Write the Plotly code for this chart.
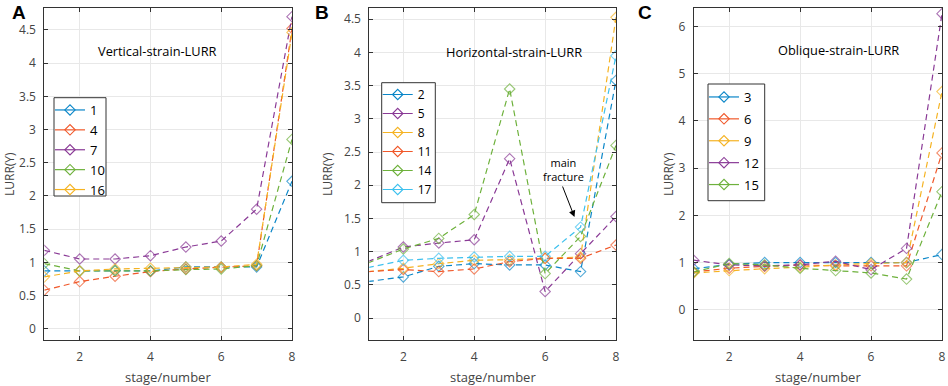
import plotly.graph_objects as go

stages = [1, 2, 3, 4, 5, 6, 7, 8]

# Panel A: Vertical-strain-LURR
a_names = ["1", "4", "7", "10", "16"]
a_1 = [0.87, 0.87, 0.88, 0.87, 0.93, 0.93, 0.93, 2.22]
a_4 = [0.58, 0.71, 0.79, 0.86, 0.90, 0.92, 0.95, 4.52]
a_7 = [1.18, 1.05, 1.05, 1.10, 1.23, 1.32, 1.80, 4.70]
a_10 = [0.98, 0.87, 0.87, 0.87, 0.89, 0.90, 0.95, 2.85]
a_16 = [0.78, 0.87, 0.90, 0.91, 0.93, 0.93, 0.97, 4.46]

# Panel B: Horizontal-strain-LURR
b_names = ["2", "5", "8", "11", "14", "17"]
b_2 = [0.55, 0.62, 0.78, 0.82, 0.80, 0.80, 0.70, 3.58]
b_5 = [0.85, 1.07, 1.13, 1.18, 2.40, 0.40, 0.97, 1.53]
b_8 = [0.70, 0.75, 0.82, 0.87, 0.88, 0.90, 0.92, 4.53]
b_11 = [0.70, 0.73, 0.70, 0.74, 0.85, 0.90, 0.90, 1.10]
b_14 = [0.83, 1.04, 1.20, 1.56, 3.45, 0.67, 1.23, 2.60]
b_17 = [0.76, 0.87, 0.90, 0.92, 0.93, 0.93, 1.37, 3.95]

# Panel C: Oblique-strain-LURR
c_names = ["3", "6", "9", "12", "15"]
c_3 = [0.87, 0.96, 1.00, 1.00, 1.00, 1.00, 1.00, 1.17]
c_6 = [0.80, 0.88, 0.92, 0.95, 0.93, 0.93, 0.93, 3.32]
c_9 = [0.78, 0.83, 0.87, 0.90, 0.95, 0.98, 1.00, 4.62]
c_12 = [1.05, 0.95, 0.93, 0.95, 1.03, 0.85, 1.30, 6.27]
c_15 = [0.80, 0.98, 0.95, 0.88, 0.83, 0.78, 0.65, 2.50]

BLUE = "#0a86c8"
ORANGE = "#f0582a"
YELLOW = "#f5b323"
PURPLE = "#8a3a96"
GREEN = "#6eb13c"
CYAN = "#3ec1ee"

W, H = 948, 386

def px_x(p):
    return p / W

def px_y(p):
    return (H - p) / H

panels = [
    dict(series=[a_1, a_4, a_7, a_10, a_16], names=a_names,
         colors=[BLUE, ORANGE, PURPLE, GREEN, YELLOW],
         ax="x", ay="y", legend="legend", hide_first=False),
    dict(series=[b_2, b_5, b_8, b_11, b_14, b_17], names=b_names,
         colors=[BLUE, PURPLE, YELLOW, ORANGE, GREEN, CYAN],
         ax="x2", ay="y2", legend="legend2", hide_first=True),
    dict(series=[c_3, c_6, c_9, c_12, c_15], names=c_names,
         colors=[BLUE, ORANGE, YELLOW, PURPLE, GREEN],
         ax="x3", ay="y3", legend="legend3", hide_first=False),
]

fig = go.Figure()
for p in panels:
    for vals, name, col in zip(p["series"], p["names"], p["colors"]):
        sizes = [8] * len(stages)
        if p["hide_first"]:
            sizes[0] = 0
        fig.add_trace(go.Scatter(
            x=stages, y=vals, name=name, mode="lines+markers",
            xaxis=p["ax"], yaxis=p["ay"], showlegend=False,
            line=dict(color=col, width=1.2, dash="6px,4px"),
            marker=dict(symbol="diamond-open", size=sizes, color=col,
                        line=dict(width=1.1, color=col)),
        ))
    # legend key entries (solid line + diamond, as in the original legend)
    for name, col in zip(p["names"], p["colors"]):
        fig.add_trace(go.Scatter(
            x=[None], y=[None], name=name, mode="lines+markers",
            xaxis=p["ax"], yaxis=p["ay"], legend=p["legend"],
            legendgroup=p["legend"] + name,
            line=dict(color=col, width=1.2),
            marker=dict(symbol="diamond-open", size=8, color=col,
                        line=dict(width=1.1, color=col)),
        ))

font_family = "Open Sans, Noto Sans, sans-serif"
tick_col = "#444444"
axis_col = "#333333"
grid_col = "#e8e8e8"

def xaxis(domain, rng, anchor):
    return dict(domain=domain, range=rng, anchor=anchor, automargin=False,
                tickvals=[2, 4, 6, 8], showgrid=True, gridcolor=grid_col,
                gridwidth=1, zeroline=False, showline=True, linecolor=axis_col,
                linewidth=1, mirror="ticks", ticks="inside", ticklen=4,
                tickcolor=axis_col, tickfont=dict(size=12, color=tick_col,
                family=font_family), ticklabelstandoff=6)

def yaxis(domain, rng, anchor, dtick, top):
    vals = []
    v = 0.0
    while v <= top + 1e-9:
        vals.append(round(v, 2))
        v += dtick
    return dict(domain=domain, range=rng, anchor=anchor, tickvals=vals,
                ticktext=[("%g" % t) for t in vals], automargin=False,
                showgrid=True, gridcolor=grid_col, gridwidth=1, zeroline=False,
                showline=True, linecolor=axis_col, linewidth=1, mirror="ticks",
                ticks="inside", ticklen=4, tickcolor=axis_col,
                tickfont=dict(size=12, color=tick_col, family=font_family),
                ticklabelstandoff=5)

yd = [px_y(340), px_y(8)]

def legend_at(xp, yp, size, gap):
    return dict(x=px_x(xp), y=px_y(yp), xanchor="left", yanchor="top",
                bgcolor="rgba(0,0,0,0)", borderwidth=0,
                font=dict(size=size, color="black", family=font_family),
                itemwidth=30, tracegroupgap=gap)

# legend frames (left, top, right, bottom) in pixels
frames = [(54, 97.7, 106, 196), (381.7, 82.7, 435.3, 202.7),
          (708, 84, 764.7, 200.7)]

fig.update_layout(
    width=W, height=H, margin=dict(l=0, r=0, t=0, b=0),
    paper_bgcolor="white", plot_bgcolor="white",
    font=dict(family=font_family, color=tick_col),
    showlegend=True,
    xaxis=xaxis([px_x(44.3), px_x(292)], [1, 8], "y"),
    yaxis=yaxis(yd, [-0.17, 4.83], "x", 0.5, 4.5),
    xaxis2=xaxis([px_x(369.3), px_x(616)], [1.04, 8], "y2"),
    yaxis2=yaxis(yd, [-0.33, 4.67], "x2", 0.5, 4.5),
    xaxis3=xaxis([px_x(693.7), px_x(942)], [1, 8], "y3"),
    yaxis3=yaxis(yd, [-0.64, 6.39], "x3", 1, 6),
    legend=legend_at(50, 95, 13, 0),
    legend2=legend_at(377.7, 80, 12, 0),
    legend3=legend_at(704, 82, 13, 2),
)

shapes = []
for (l, t, r, b) in frames:
    shapes.append(dict(type="rect", xref="paper", yref="paper",
                       x0=px_x(l), x1=px_x(r), y0=px_y(b), y1=px_y(t),
                       line=dict(color=axis_col, width=1), fillcolor="white",
                       layer="above"))
fig.update_layout(shapes=shapes)

ann = []

def note(text, xp, yp, size, color, family=font_family, angle=0):
    ann.append(dict(text=text, x=px_x(xp), y=px_y(yp), xref="paper",
                    yref="paper", xanchor="center", yanchor="middle",
                    showarrow=False, textangle=angle,
                    font=dict(size=size, color=color, family=family)))

# panel letters
for letter, xp in [("A", 18.5), ("B", 322), ("C", 645)]:
    note("<b>%s</b>" % letter, xp, 12, 19, "black",
         "Liberation Sans, Arial, sans-serif")
# in-plot titles
for txt, xp, yp in [("Vertical-strain-LURR", 157.5, 51),
                    ("Horizontal-strain-LURR", 514, 51.7),
                    ("Oblique-strain-LURR", 838.7, 50)]:
    note(txt, xp, yp, 12.8, "black")
# axis titles
for xp in [168.2, 492.7, 817.9]:
    note("stage/number", xp, 377, 13, tick_col)
for xp in [9, 327, 668]:
    note("LURR(Y)", xp, 174, 12, tick_col, angle=-90)
# main fracture note
note("main<br>fracture", 563.5, 169.5, 11, "black")
ann.append(dict(text="", x=px_x(574.5), y=px_y(217), xref="paper",
                yref="paper", ax=-12.5, ay=-32, axref="pixel",
                ayref="pixel", showarrow=True, arrowhead=2, arrowsize=1.3,
                arrowwidth=1, arrowcolor="black"))
fig.update_layout(annotations=ann)

fig.write_html("out.html", config={"displayModeBar": False},
               post_script="document.body.style.margin='0px';")
